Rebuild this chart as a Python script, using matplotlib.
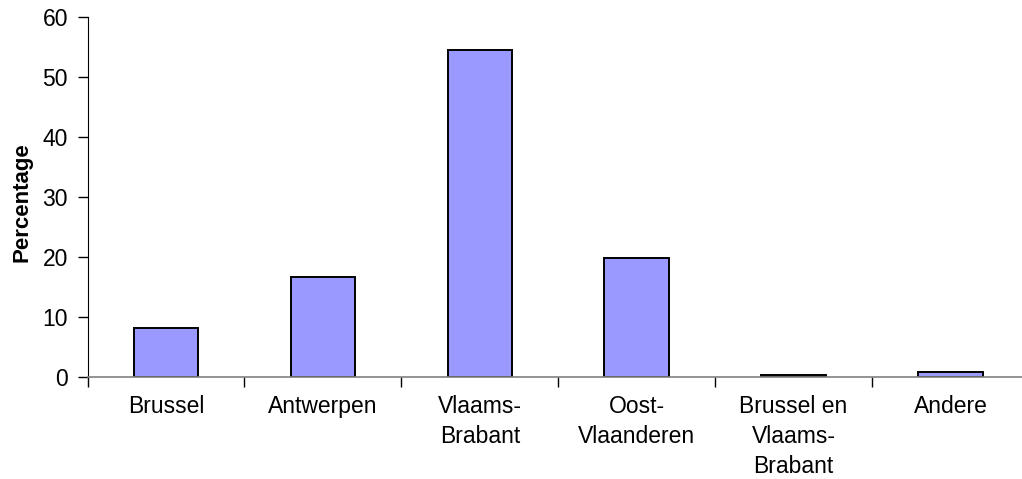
import matplotlib.pyplot as plt
import numpy as np

plt.rcParams['font.family'] = ['Liberation Sans', 'DejaVu Sans']

categories = ['Brussel', 'Antwerpen', 'Vlaams-\nBrabant', 'Oost-\nVlaanderen',
              'Brussel en\nVlaams-\nBrabant', 'Andere']
values = [8.1, 16.6, 54.4, 19.8, 0.3, 0.8]
yticks = [0, 10, 20, 30, 40, 50, 60]

fig = plt.figure(figsize=(10.22, 4.79), dpi=100)
ax = fig.add_axes([87.5 / 1022, (479 - 376.7) / 479, 6 * 156.9 / 1022, 360 / 479])

x = np.arange(len(categories))
ax.bar(x, values, width=0.41, color='#9999FF', edgecolor='black', linewidth=1.4)

ax.set_xlim(-0.5, len(categories) - 0.5)
ax.set_ylim(0, 60)
ax.set_yticks(yticks)

# boundaries get the tick marks, centres get the labels
ax.set_xticks(np.arange(len(categories) + 1) - 0.5)
ax.set_xticklabels([])
ax.set_xticks(x, minor=True)
ax.set_xticklabels(categories, minor=True, linespacing=1.4)
ax.tick_params(axis='x', which='major', length=7, width=1, direction='out')
ax.tick_params(axis='x', which='minor', length=0, pad=13, labelsize=16.5)
ax.tick_params(axis='y', length=7, width=1, direction='out', pad=7, labelsize=16.5)

for s in ['top', 'right']:
    ax.spines[s].set_visible(False)
ax.spines['left'].set_color('black')
ax.spines['bottom'].set_color('#808080')
ax.spines['bottom'].set_linewidth(1.2)

fig.text(22 / 1022, 1 - 202 / 479, 'Percentage', rotation=90, fontsize=16,
         fontweight='bold', ha='center', va='center')

plt.savefig('out.png', dpi=100)
